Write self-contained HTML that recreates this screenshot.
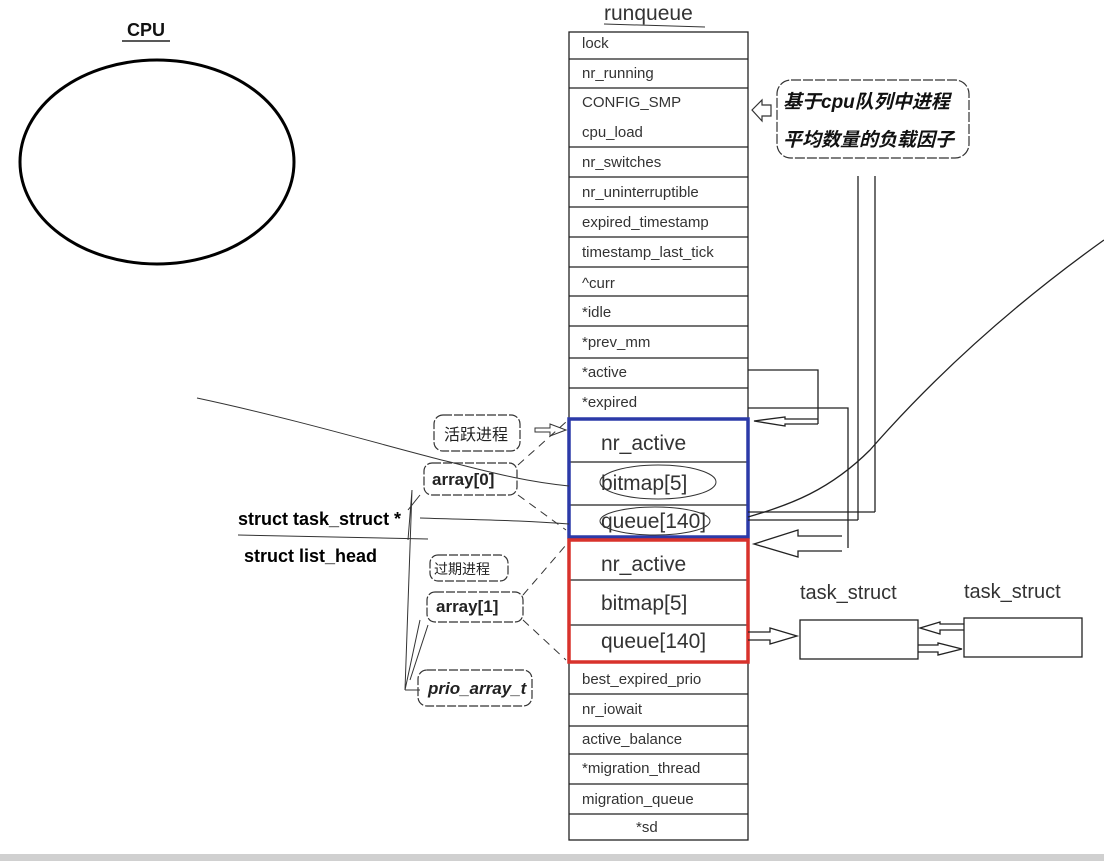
<!DOCTYPE html>
<html><head><meta charset="utf-8"><style>
html,body{margin:0;padding:0;background:#fff;width:1104px;height:861px;overflow:hidden}
svg{display:block}
.t{font-family:"Liberation Sans","Noto Sans CJK SC",sans-serif;fill:#333}
</style></head><body>
<svg width="1104" height="861" viewBox="0 0 1104 861" xmlns="http://www.w3.org/2000/svg">
<rect x="0" y="854" width="1104" height="7" fill="#d0d0d0"/>
<text x="127" y="36" class="t" font-size="18" font-weight="bold" style="fill:#111">CPU</text>
<line x1="122" y1="41" x2="170" y2="41" stroke="#222" stroke-width="1.5"/>
<ellipse cx="157" cy="162" rx="137" ry="102" fill="none" stroke="#000" stroke-width="3"/>
<text x="604" y="20" class="t" font-size="21">runqueue</text>
<line x1="604" y1="24" x2="705" y2="27" stroke="#333" stroke-width="1"/>
<g stroke="#222" stroke-width="1.3" fill="none">
<rect x="569" y="32" width="179" height="808"/>
<line x1="569" y1="59" x2="748" y2="59"/><line x1="569" y1="88" x2="748" y2="88"/>
<line x1="569" y1="147" x2="748" y2="147"/><line x1="569" y1="177" x2="748" y2="177"/>
<line x1="569" y1="207" x2="748" y2="207"/><line x1="569" y1="237" x2="748" y2="237"/>
<line x1="569" y1="267" x2="748" y2="267"/><line x1="569" y1="296" x2="748" y2="296"/>
<line x1="569" y1="326" x2="748" y2="326"/><line x1="569" y1="358" x2="748" y2="358"/>
<line x1="569" y1="388" x2="748" y2="388"/>
<line x1="569" y1="462" x2="748" y2="462"/><line x1="569" y1="505" x2="748" y2="505"/>
<line x1="569" y1="580" x2="748" y2="580"/><line x1="569" y1="625" x2="748" y2="625"/>
<line x1="569" y1="694" x2="748" y2="694"/><line x1="569" y1="726" x2="748" y2="726"/>
<line x1="569" y1="754" x2="748" y2="754"/><line x1="569" y1="784" x2="748" y2="784"/>
<line x1="569" y1="814" x2="748" y2="814"/>
</g>
<rect x="569" y="419" width="179" height="118" fill="none" stroke="#2c3aa8" stroke-width="3.5"/>
<rect x="569" y="540" width="179" height="122" fill="none" stroke="#d8322c" stroke-width="3.5"/>
<g class="t" font-size="15">
<text x="582" y="48">lock</text><text x="582" y="78">nr_running</text>
<text x="582" y="107">CONFIG_SMP</text><text x="582" y="137">cpu_load</text>
<text x="582" y="167">nr_switches</text><text x="582" y="197">nr_uninterruptible</text>
<text x="582" y="227">expired_timestamp</text><text x="582" y="257">timestamp_last_tick</text>
<text x="582" y="288">^curr</text><text x="582" y="317">*idle</text>
<text x="582" y="347">*prev_mm</text><text x="582" y="377">*active</text>
<text x="582" y="407">*expired</text>
<text x="582" y="684">best_expired_prio</text><text x="582" y="714">nr_iowait</text>
<text x="582" y="744">active_balance</text><text x="582" y="773">*migration_thread</text>
<text x="582" y="804">migration_queue</text><text x="636" y="832">*sd</text>
</g>
<g class="t" font-size="21">
<text x="601" y="450">nr_active</text><text x="601" y="490">bitmap[5]</text><text x="601" y="528">queue[140]</text>
<text x="601" y="571">nr_active</text><text x="601" y="610">bitmap[5]</text><text x="601" y="648">queue[140]</text>
</g>
<ellipse cx="658" cy="482" rx="58" ry="17" fill="none" stroke="#333" stroke-width="1"/>
<ellipse cx="655" cy="521" rx="55" ry="14" fill="none" stroke="#333" stroke-width="1"/>
<rect x="777" y="80" width="192" height="78" rx="14" fill="none" stroke="#333" stroke-width="1.2" stroke-dasharray="10 2"/>
<g class="t" font-size="19" font-style="italic" font-weight="bold" style="fill:#111">
<text x="783" y="108">基于cpu队列中进程</text><text x="783" y="146">平均数量的负载因子</text>
</g>
<path d="M752 110 L762 100 L762 105 L771 105 L771 116 L762 116 L762 121 Z" fill="none" stroke="#333" stroke-width="1.2"/>
<g stroke="#222" stroke-width="1.3" fill="none">
<line x1="858" y1="176" x2="858" y2="520"/><line x1="875" y1="176" x2="875" y2="512"/>
<line x1="748" y1="512" x2="875" y2="512"/><line x1="748" y1="520" x2="858" y2="520"/>
<path d="M748 370 L818 370 L818 424"/>
<path d="M748 408 L848 408 L848 548"/>
<path d="M818 419 L785 419 L785 417 L754 421 L785 426 L785 424 L818 424"/>
<path d="M842 536 L798 536 L798 530 L754 544 L798 557 L798 551 L842 551"/>
<path d="M748 517 C790 505 830 490 870 450 C940 370 1020 300 1104 240"/>
</g>
<g fill="none" stroke="#333" stroke-width="1.2" stroke-dasharray="9 2">
<rect x="434" y="415" width="86" height="36" rx="9"/>
<rect x="424" y="463" width="93" height="32" rx="8"/>
<rect x="430" y="555" width="78" height="26" rx="8"/>
<rect x="427" y="592" width="96" height="30" rx="8"/>
<rect x="418" y="670" width="114" height="36" rx="9"/>
</g>
<g class="t" style="fill:#222">
<text x="444" y="440" font-size="16">活跃进程</text>
<text x="434" y="574" font-size="14">过期进程</text>
<text x="432" y="485" font-size="17" font-weight="bold">array[0]</text>
<text x="436" y="612" font-size="17" font-weight="bold">array[1]</text>
<text x="428" y="694" font-size="17" font-weight="bold" font-style="italic">prio_array_t</text>
<text x="238" y="525" font-size="18" font-weight="bold" style="fill:#000">struct task_struct *</text>
<text x="244" y="562" font-size="18" font-weight="bold" style="fill:#000">struct list_head</text>
</g>
<g stroke="#333" stroke-width="1" fill="none">
<line x1="238" y1="535" x2="428" y2="539"/>
<path d="M197 398 C300 420 400 450 450 462 C500 475 530 482 569 486"/>
<path d="M420 518 C480 520 520 520 569 524"/>
<path d="M408 510 L420 495 M405 690 L420 620 M405 690 L412 490 L408 540 M420 690 L405 690 M410 680 L428 625"/>
<path d="M535 428 L550 428 L550 424 L566 430 L550 436 L550 432 L535 432 Z"/>
<g stroke-dasharray="8 6"><line x1="518" y1="465" x2="566" y2="422"/><line x1="518" y1="495" x2="566" y2="530"/>
<line x1="523" y1="595" x2="566" y2="545"/><line x1="523" y1="620" x2="566" y2="660"/></g>
</g>
<g class="t" font-size="20"><text x="800" y="599">task_struct</text><text x="964" y="598">task_struct</text></g>
<g stroke="#222" stroke-width="1.3" fill="none">
<rect x="800" y="620" width="118" height="39"/><rect x="964" y="618" width="118" height="39"/>
<path d="M748 632 L770 632 L770 628 L797 636 L770 644 L770 640 L748 640"/>
<path d="M964 624 L940 624 L940 622 L920 628 L940 634 L940 630 L964 630"/>
<path d="M918 645 L938 645 L938 643 L962 649 L938 655 L938 652 L918 652"/>
</g>
</svg>
</body></html>
